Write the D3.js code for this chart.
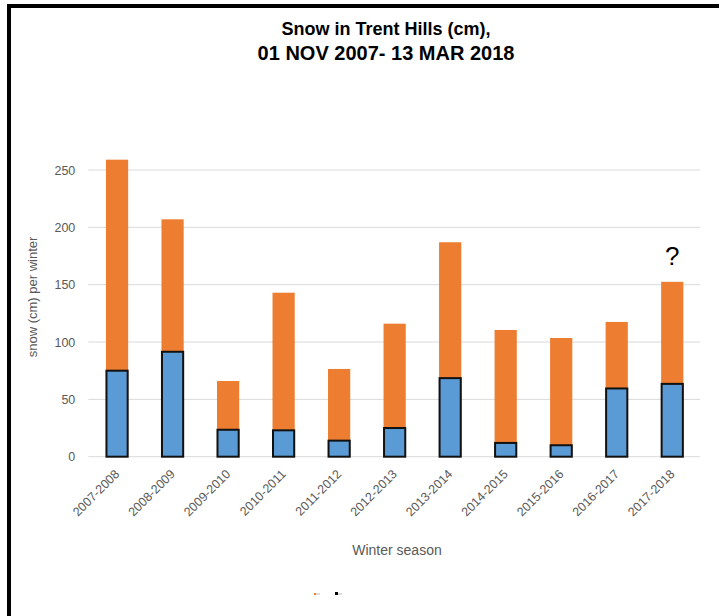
<!DOCTYPE html>
<html>
<head>
<meta charset="utf-8">
<script src="https://cdn.jsdelivr.net/npm/d3@7"></script>
<style>
  html, body { margin: 0; padding: 0; background: #fff; }
  svg { display: block; }
</style>
</head>
<body>
<svg id="chart" width="719" height="616"></svg>
<script>
// Winter seasons on the category axis
const seasons = ["2007-2008", "2008-2009", "2009-2010", "2010-2011", "2011-2012",
  "2012-2013", "2013-2014", "2014-2015", "2015-2016", "2016-2017", "2017-2018"];
// Full-height (orange) bars, cm per winter
const totalSnow = [259, 207, 66, 143, 76.5, 116, 187, 110.5, 103.5, 117.5, 152.5];
// Overlaid (blue, outlined) bars, cm per winter
const partSnow = [75, 91.5, 23.5, 23, 14, 25, 68.5, 12, 10, 59.5, 63.5];
// Value axis ticks
const yTicks = [0, 50, 100, 150, 200, 250];

const svg = d3.select("#chart");
const W = 719, H = 616;
const font = "'Liberation Sans', Arial, sans-serif";

// Outer frame: thick line along the top and the left edge
svg.append("line").attr("x1", 7).attr("x2", W).attr("y1", 6).attr("y2", 6)
  .attr("stroke", "#000").attr("stroke-width", 4);
svg.append("line").attr("x1", 9).attr("x2", 9).attr("y1", 4).attr("y2", H)
  .attr("stroke", "#000").attr("stroke-width", 4);

const plot = { left: 89.3, right: 700, top: 170, bottom: 456.7 };

const x = d3.scaleBand().domain(seasons).range([plot.left, plot.right])
  .paddingInner(0.6).paddingOuter(0.3);
const y = d3.scaleLinear().domain([0, 250]).range([plot.bottom, plot.top]);

// Horizontal gridlines
svg.append("g").selectAll("line").data(yTicks).join("line")
  .attr("x1", plot.left - 1).attr("x2", plot.right)
  .attr("y1", d => y(d)).attr("y2", d => y(d))
  .attr("stroke", "#d9d9d9").attr("stroke-width", 1);

// Value axis labels
const yAxis = d3.axisLeft(y).tickValues(yTicks).tickSize(0).tickPadding(14);
const yg = svg.append("g").attr("transform", `translate(${plot.left},0)`).call(yAxis);
yg.select(".domain").remove();
yg.selectAll("text").attr("font-family", font).attr("font-size", 12.5).attr("fill", "#595959");

// Orange full-height bars
svg.append("g").selectAll("rect").data(seasons).join("rect")
  .attr("x", d => x(d))
  .attr("width", x.bandwidth())
  .attr("y", (d, i) => y(totalSnow[i]))
  .attr("height", (d, i) => y(0) - y(totalSnow[i]))
  .attr("fill", "#ed7d31");

// Blue outlined bars on top
svg.append("g").selectAll("rect").data(seasons).join("rect")
  .attr("x", d => x(d) + 0.5)
  .attr("width", x.bandwidth() - 1)
  .attr("y", (d, i) => y(partSnow[i]))
  .attr("height", (d, i) => y(0) - y(partSnow[i]))
  .attr("fill", "#5b9bd5")
  .attr("stroke", "#111").attr("stroke-width", 2);

// Category axis labels, rotated
const xAxis = d3.axisBottom(x).tickSize(0).tickPadding(0);
const xg = svg.append("g").attr("transform", `translate(0,${plot.bottom})`).call(xAxis);
xg.select(".domain").remove();
xg.selectAll("text")
  .attr("font-family", font).attr("font-size", 12.5).attr("fill", "#595959")
  .attr("text-anchor", "end")
  .attr("dy", "0.35em")
  .attr("transform", "translate(0,15) rotate(-45)");

// Axis titles
svg.append("text").attr("x", 397).attr("y", 555)
  .attr("text-anchor", "middle").attr("font-family", font)
  .attr("font-size", 14).attr("fill", "#595959").text("Winter season");
svg.append("text")
  .attr("transform", "translate(37,297) rotate(-90)")
  .attr("text-anchor", "middle").attr("font-family", font)
  .attr("font-size", 13).attr("fill", "#595959").text("snow (cm) per winter");

// Chart title
const title = svg.append("text").attr("text-anchor", "middle")
  .attr("font-family", font).attr("font-weight", "bold").attr("fill", "#000");
title.append("tspan").attr("x", 386).attr("y", 35).attr("font-size", 18).text("Snow in Trent Hills (cm),");
title.append("tspan").attr("x", 386).attr("y", 60).attr("font-size", 20).text("01 NOV 2007- 13 MAR 2018");

// Question mark over the last season
const last = seasons[seasons.length - 1];
svg.append("text").attr("x", x(last) + x.bandwidth() / 2).attr("y", 265)
  .attr("text-anchor", "middle").attr("font-family", font)
  .attr("font-size", 26).attr("fill", "#000").text("?");

// Legend swatches (clipped remnants)
const legend = svg.append("g");
legend.append("rect").attr("x", 314).attr("y", 593).attr("width", 2).attr("height", 2).attr("fill", "#ed7d31");
legend.append("rect").attr("x", 316).attr("y", 593.5).attr("width", 4).attr("height", 1).attr("fill", "#bbb");
legend.append("rect").attr("x", 335).attr("y", 592).attr("width", 3).attr("height", 3).attr("fill", "#000");
legend.append("rect").attr("x", 338).attr("y", 593.5).attr("width", 4).attr("height", 1).attr("fill", "#bbb");
</script>
</body>
</html>
